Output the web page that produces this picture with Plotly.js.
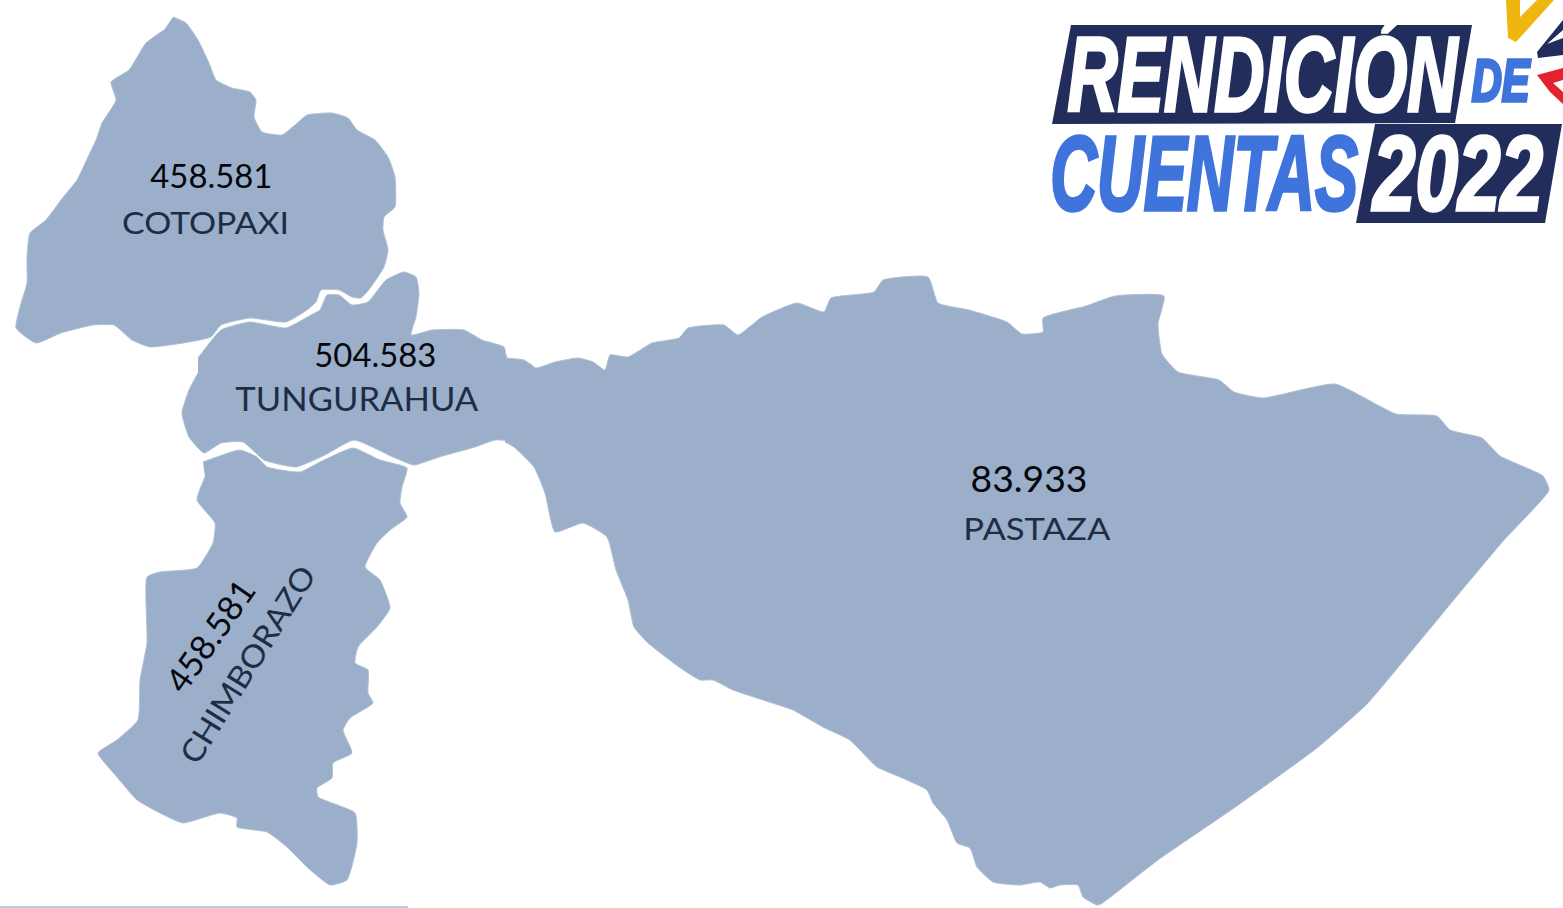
<!DOCTYPE html>
<html><head><meta charset="utf-8"><script src="https://cdn.plot.ly/plotly-3.0.1.min.js"></script>
<style>html,body{margin:0;padding:0;background:#fff}#c{width:1563px;height:908px}</style></head>
<body><div id="c"></div><script>
const cotopaxiX=[173,186,198,209,216,232,250,256,254,262,282,295,307,332,348,357,375,388,395,395,384,383,388,384,371,361,352,339,321,316,307,286,250,221,211,189,150,132,114,93,61,36,16,20,27,27,30,46,61,77,88,96,102,116,111,129,146,164];
const cotopaxiY=[17,23,40,63,80,88,92,100,117,132,135,125,115,113,118,130,140,157,177,207,217,230,250,267,287,298,297,290,290,302,310,322,318,325,337,342,347,340,325,325,333,343,328,307,283,257,233,220,200,180,157,140,123,100,82,70,43,30];
const tungurahuaX=[198,221,250,286,311,320,327,339,352,368,386,404,416,419,416,411,432,464,482,504,507,532,532,495,475,439,414,393,354,325,296,264,243,221,204,189,182,189,198];
const tungurahuaY=[358,330,322,328,315,310,295,295,305,302,280,272,277,293,317,335,330,330,340,347,358,365,440,440,447,457,465,457,440,455,467,460,442,443,453,437,413,390,373];
const chimborazoX=[203,240,257,267,300,320,353,380,407,402,400,407,390,377,365,380,390,377,358,355,368,368,373,350,343,352,333,332,317,318,355,357,347,330,307,287,267,237,237,220,183,160,137,117,98,117,138,140,147,147,160,197,213,215,197,205];
const chimborazoY=[462,450,457,467,472,462,448,460,468,487,503,517,530,543,567,580,608,627,647,663,670,693,703,718,730,753,763,778,788,797,813,843,880,885,867,847,832,827,818,813,823,813,800,777,753,740,720,680,643,577,572,568,543,523,500,477];
const pastazaX=[505,524,536,555,578,593,605,610,628,652,679,688,724,738,762,797,824,831,874,883,928,938,969,1007,1022,1043,1043,1086,1115,1164,1158,1162,1178,1219,1234,1263,1335,1396,1437,1450,1482,1500,1543,1549,1504,1457,1414,1367,1317,1234,1158,1101,1097,1083,1078,1060,1050,1040,1020,993,977,970,957,947,933,927,900,877,860,850,823,793,763,733,713,700,679,648,634,628,616,607,583,555,545,534,514,505];
const pastazaY=[358,360,368,362,358,362,370,355,357,343,338,328,325,335,317,303,312,298,292,280,277,303,310,322,334,332,318,306,296,296,324,354,372,380,392,398,384,414,416,430,438,456,476,490,540,596,648,704,748,808,860,904,905,897,885,885,888,882,885,882,867,848,843,820,803,790,777,767,750,740,727,710,700,690,680,680,667,643,627,600,570,537,523,532,493,467,447,442];
const bannerTopX=[1071,1472,1455,1052], bannerTopY=[25,25,123,124];
const bannerLowX=[1375,1562,1545,1356], bannerLowY=[124,124,223,223];
const checkX=[1506,1520,1520,1537,1554,1516,1508], checkY=[0,0,17,0,0,42,38];
const navyX=[1563,1537,1538,1563,1563,1547,1563], navyY=[20,52,58,55,38,44,30];
const redX=[1537,1563,1563,1553,1563,1563,1550], redY=[75,68,80,83,92,104,92];
const ruleX=[0,408], ruleY=[907,907];

const regionNames=['COTOPAXI','TUNGURAHUA','CHIMBORAZO','PASTAZA'];
const regionValues=['458.581','504.583','458.581','83.933'];
const labelTexts=[...regionValues,...regionNames];
const labelX=[211,375,209,1029,205,357,247,1037];
const labelY=[175,354,635,477,222,398,664,528];
const labelSize=[33,33,34,37,31,33,31,31];
const labelAngle=[0,0,-55,0,0,0,-58,0];
const labelColor=['#05070c','#05070c','#05070c','#05070c','#1f2c46','#1f2c46','#1f2c46','#1f2c46'];
const labelFit=[122,122,128,117,167,243,226,147];

const logoTexts=['RENDICIÓN','DE','CUENTAS','2022'];
const logoX=[1263,1501,1204,1457], logoY=[74,80,173,173];
const logoSize=[106,60,106,106];
const logoColor=['#ffffff','#3f74dc','#3f74dc','#ffffff'];
const logoFit=[390,58,308,170];

const MAP='#9bafca', NAVY='#222d5c';
const poly=(x,y,c)=>({type:'scatter',mode:'lines',x,y,fill:'toself',fillcolor:c,line:{color:c,width:0},hoverinfo:'skip',showlegend:false});
const region=(x,y)=>({type:'scatter',mode:'lines',x,y,fill:'toself',fillcolor:MAP,line:{color:'#aebfd6',width:1,shape:'spline',smoothing:0.45},hoverinfo:'skip',showlegend:false});
const traces=[
 region(cotopaxiX,cotopaxiY),region(tungurahuaX,tungurahuaY),
 region(chimborazoX,chimborazoY),region(pastazaX,pastazaY),
 poly(bannerTopX,bannerTopY,NAVY),poly(bannerLowX,bannerLowY,NAVY),
 poly(checkX,checkY,'#eeb60f'),poly(navyX,navyY,NAVY),poly(redX,redY,'#e4222e'),
 {type:'scatter',mode:'lines',x:ruleX,y:ruleY,line:{color:'#7d9cc4',width:1},hoverinfo:'skip',showlegend:false}
];
const labelAnn=labelTexts.map((t,i)=>({text:t,x:labelX[i],y:labelY[i],xref:'x',yref:'y',showarrow:false,xanchor:'center',yanchor:'middle',textangle:labelAngle[i],font:{family:'Lato, Carlito, sans-serif',size:labelSize[i],color:labelColor[i]}}));
const logoAnn=logoTexts.map((t,i)=>({text:t,x:logoX[i],y:logoY[i],xref:'x',yref:'y',showarrow:false,xanchor:'center',yanchor:'middle',font:{family:'"Liberation Sans Narrow","Liberation Sans",sans-serif',size:logoSize[i],color:logoColor[i],weight:700,style:'italic'}}));
const axis={visible:false,fixedrange:true,showgrid:false,zeroline:false};
Plotly.newPlot('c',traces,{width:1563,height:908,margin:{l:0,r:0,t:0,b:0},paper_bgcolor:'#fff',plot_bgcolor:'#fff',showlegend:false,
 xaxis:{...axis,range:[0,1563]},yaxis:{...axis,range:[908,0]},annotations:[...labelAnn,...logoAnn]},{staticPlot:true,displayModeBar:false}).then(()=>{
 const fit=[...labelFit,...logoFit];
 document.querySelectorAll('.annotation-text').forEach((el,i)=>{
  el.setAttribute('textLength',fit[i]);el.setAttribute('lengthAdjust','spacingAndGlyphs');
  if(i>=labelFit.length){const c=logoColor[i-labelFit.length];el.style.stroke=c;el.style.strokeWidth='3.5px';}
 });
});
</script></body></html>
